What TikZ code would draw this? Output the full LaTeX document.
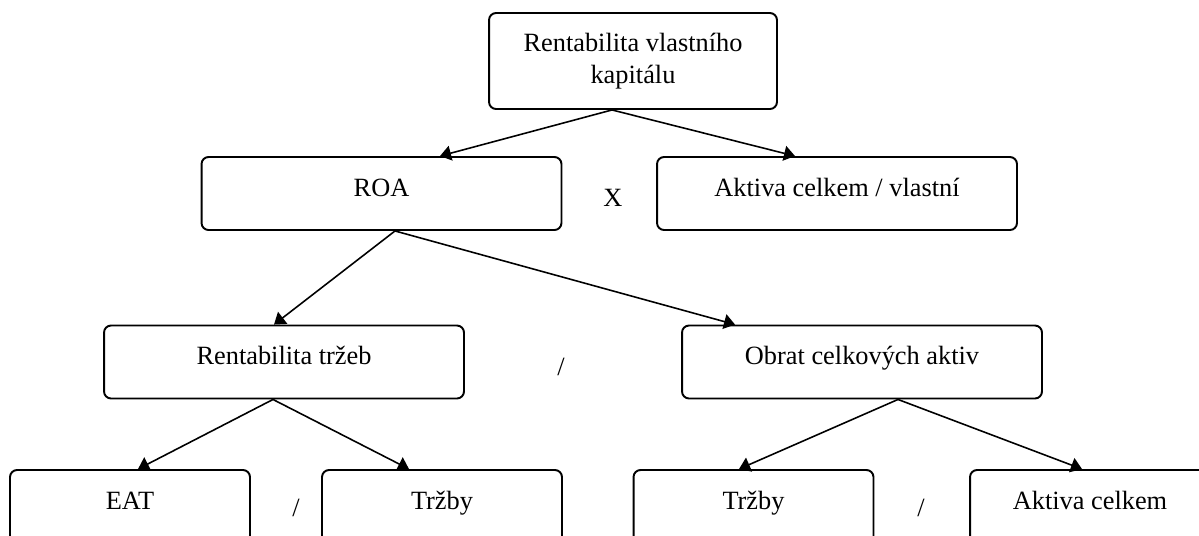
\documentclass[tikz,border=0pt]{standalone}
\usepackage{fontspec}
\setmainfont{Liberation Serif}
\usetikzlibrary{arrows.meta}
\tikzset{every picture/.append style={x=0.02cm, y=-0.02cm}}
\tikzset{
    box/.style={draw, rounded corners=0.14cm, line width=1.1pt, inner sep=0pt,
    	minimum width=7.2cm, text height=0.78cm, text depth=0.68cm},
    small box/.style={box, minimum width=4.8cm},
    head box/.style={draw, rounded corners=0.14cm, line width=1.1pt, inner sep=0pt,
    	minimum width=5.76cm, minimum height=1.92cm, align=center},
    sign/.style={inner sep=0pt},
    every edge/.append style={-{Triangle[length=0.22cm, width=0.3cm]}, line width=0.9pt}
}

\begin{document}
\begin{tikzpicture}[font=\fontsize{15}{18.5}\selectfont]
	\useasboundingbox (0, 0) rectangle (1199, 535);
	\clip (0, 0) rectangle (1199, 535);

	\node (top) [head box] at (633, 61) {Rentabilita vlastního\\kapitálu};
	\node (roa) [box] at (381.5, 193.5) {ROA};
	\node (akt) [box] at (837, 193.5) {Aktiva celkem / vlastní};
	\node (rt) [box] at (284, 362) {Rentabilita tržeb};
	\node (obr) [box] at (862, 362) {Obrat celkových aktiv};
	\node (eat) [small box] at (130, 506.5) {EAT};
	\node (trz1) [small box] at (442, 506.5) {Tržby};
	\node (trz2) [small box] at (753.5, 506.5) {Tržby};
	\node (aktc) [small box] at (1090, 506.5) {Aktiva celkem};

	\node (times) [sign] at (613, 198) {X};
	\node (div1) [sign] at (561, 367) {/};
	\node (div2) [sign] at (296, 508) {/};
	\node (div3) [sign] at (921, 508) {/};

	\draw ([xshift=-0.42cm]top.south) edge ([xshift=1.17cm]roa.north);
	\draw ([xshift=-0.42cm]top.south) edge ([xshift=-0.84cm]akt.north);
	\draw ([xshift=0.27cm]roa.south) edge ([xshift=-0.2cm]rt.north);
	\draw ([xshift=0.27cm]roa.south) edge ([xshift=-2.54cm]obr.north);
	\draw ([xshift=-0.22cm]rt.south) edge ([xshift=0.16cm]eat.north);
	\draw ([xshift=-0.22cm]rt.south) edge ([xshift=-0.66cm]trz1.north);
	\draw ([xshift=0.72cm]obr.south) edge ([xshift=-0.29cm]trz2.north);
	\draw ([xshift=0.72cm]obr.south) edge ([xshift=-0.16cm]aktc.north);
\end{tikzpicture}
\end{document}
